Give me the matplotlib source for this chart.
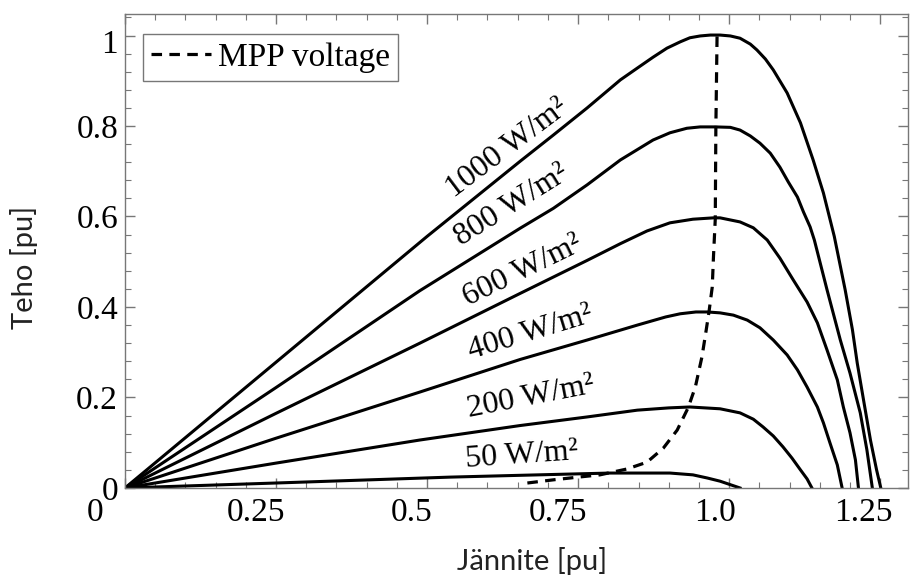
import numpy as np
import matplotlib
matplotlib.use('Agg')
import matplotlib.pyplot as plt
from matplotlib.ticker import MultipleLocator
from matplotlib.transforms import ScaledTranslation

# P-V curves (voltage pu, power pu)
v1000 = [0, 0.25, 0.5, 0.654, 0.709, 0.765, 0.820, 0.848, 0.874, 0.897, 0.919, 0.935, 0.952, 0.969, 0.985,
         1.002, 1.018, 1.035, 1.046, 1.060, 1.073, 1.096, 1.118, 1.139, 1.156, 1.174, 1.192, 1.204, 1.212,
         1.223, 1.234, 1.244, 1.251]
p1000 = [0, 0.278, 0.556, 0.722, 0.780, 0.840, 0.902, 0.928, 0.952, 0.972, 0.986, 0.995, 0.999, 1.001, 1.001,
         0.999, 0.994, 0.981, 0.968, 0.948, 0.924, 0.873, 0.807, 0.725, 0.652, 0.556, 0.438, 0.350, 0.276,
         0.190, 0.105, 0.040, 0.0]
v800 = [0, 0.25, 0.488, 0.654, 0.709, 0.765, 0.820, 0.874, 0.902, 0.930, 0.952, 0.977, 1.002, 1.018, 1.035,
        1.051, 1.068, 1.084, 1.098, 1.113, 1.123, 1.134, 1.141, 1.162, 1.184, 1.200, 1.217, 1.228, 1.237]
p800 = [0, 0.222, 0.436, 0.574, 0.618, 0.670, 0.725, 0.769, 0.785, 0.795, 0.798, 0.798, 0.797, 0.791, 0.778,
        0.762, 0.740, 0.709, 0.676, 0.643, 0.610, 0.577, 0.548, 0.438, 0.327, 0.254, 0.166, 0.084, 0]
v600 = [0, 0.25, 0.488, 0.654, 0.765, 0.820, 0.864, 0.902, 0.940, 0.974, 0.985, 1.018, 1.040, 1.063, 1.084,
        1.106, 1.129, 1.146, 1.162, 1.179, 1.189, 1.200, 1.209, 1.214]
p600 = [0, 0.165, 0.320, 0.430, 0.503, 0.540, 0.568, 0.586, 0.594, 0.597, 0.597, 0.588, 0.575, 0.548, 0.508,
        0.460, 0.411, 0.365, 0.305, 0.239, 0.179, 0.122, 0.062, 0]
v400 = [0, 0.25, 0.488, 0.654, 0.765, 0.848, 0.895, 0.919, 0.945, 0.964, 0.985, 1.007, 1.030, 1.051, 1.073,
        1.096, 1.113, 1.129, 1.146, 1.156, 1.167, 1.179, 1.187]
p400 = [0, 0.11, 0.212, 0.284, 0.327, 0.360, 0.378, 0.385, 0.389, 0.389, 0.387, 0.382, 0.371, 0.354, 0.327,
        0.294, 0.261, 0.223, 0.179, 0.144, 0.099, 0.051, 0]
v200 = [0, 0.25, 0.488, 0.654, 0.765, 0.848, 0.900, 0.935, 0.985, 1.018, 1.040, 1.056, 1.073, 1.089, 1.104,
        1.118, 1.129, 1.137]
p200 = [0, 0.055, 0.106, 0.138, 0.157, 0.172, 0.177, 0.179, 0.175, 0.166, 0.152, 0.135, 0.115, 0.091, 0.066,
        0.040, 0.020, 0]
v50 = [0, 0.25, 0.538, 0.654, 0.803, 0.902, 0.940, 0.964, 0.985, 1.018]
p50 = [0, 0.011, 0.024, 0.028, 0.033, 0.033, 0.029, 0.022, 0.015, 0]

# MPP voltage locus
v_mpp = [0.666, 0.709, 0.750, 0.786, 0.831, 0.864, 0.891, 0.914, 0.932, 0.944, 0.955, 0.962, 0.967, 0.972, 0.974, 0.977, 0.978, 0.980]
p_mpp = [0.011, 0.018, 0.024, 0.029, 0.042, 0.057, 0.088, 0.128, 0.177, 0.223, 0.290, 0.349, 0.393, 0.444, 0.510, 0.594, 0.798, 1.001]

irradiance = [1000, 800, 600, 400, 200, 50]
curves_v = [v1000, v800, v600, v400, v200, v50]
curves_p = [p1000, p800, p600, p400, p200, p50]

# label placement (baseline centre, angle)
lab_x = [0.640, 0.647, 0.664, 0.674, 0.675, 0.657]
lab_y = [0.738, 0.610, 0.464, 0.327, 0.183, 0.055]
lab_rot = [37, 32, 26, 17, 11, 4]

xtick_pos = [0, 0.25, 0.5, 0.75, 1.0, 1.25]
xtick_lab = ['0', '0.25', '0.5', '0.75', '1.0', '1.25']
xtick_shift = [-30, -20, -15, -20, -14, -17]   # px, labels sit left of ticks
ytick_pos = [0, 0.2, 0.4, 0.6, 0.8, 1.0]
ytick_lab = ['0', '0.2', '0.4', '0.6', '0.8', '1']

plt.rcParams['font.family'] = ['Liberation Serif', 'DejaVu Serif']

fig = plt.figure(figsize=(9.11, 5.79), dpi=100)
ax = fig.add_axes([0.1372, 0.1572, 0.8595, 0.8186])

for v, p in zip(curves_v, curves_p):
    ax.plot(v, p, color='black', lw=2.2, solid_joinstyle='round')

ax.plot(v_mpp, p_mpp, color='black', lw=2.3, dashes=(3.3, 2.3), label='MPP voltage')

for g, x, y, r in zip(irradiance, lab_x, lab_y, lab_rot):
    ax.text(x, y, f'{g} W/m²', fontsize=23, rotation=r, rotation_mode='anchor',
            ha='center', va='baseline')

ax.set_xlim(0, 1.296)
ax.set_ylim(0, 1.0475)

ax.set_xticks(xtick_pos, xtick_lab)
ax.set_yticks(ytick_pos, ytick_lab)
ax.xaxis.set_minor_locator(MultipleLocator(0.05))
ax.yaxis.set_minor_locator(MultipleLocator(0.04))
ax.tick_params(which='both', direction='in', top=True, right=True, color='#777777', labelsize=24)
ax.tick_params(which='major', length=7, width=1)
ax.tick_params(which='minor', length=4, width=0.8)
ax.tick_params(axis='x', pad=7)
ax.tick_params(axis='y', pad=5)

for lbl, dx in zip(ax.get_xticklabels(), xtick_shift):
    lbl.set_transform(lbl.get_transform() + ScaledTranslation(dx / 100, 0, fig.dpi_scale_trans))
ylbls = ax.get_yticklabels()
ylbls[-1].set_transform(ylbls[-1].get_transform() + ScaledTranslation(0, -6 / 100, fig.dpi_scale_trans))

for s in ax.spines.values():
    s.set_color('#777777')
    s.set_linewidth(1.0)

ax.set_xlabel('Jännite [pu]', fontsize=21, family='Lato', color='#222222')
ax.set_ylabel('Teho [pu]', fontsize=21, family='Lato', color='#222222')
ax.xaxis.set_label_coords(0.52, -0.125)
ax.yaxis.set_label_coords(-0.111, 0.466)

leg = ax.legend(loc='upper left', bbox_to_anchor=(0.023, 0.958), borderaxespad=0,
                fancybox=False, edgecolor='#777777', framealpha=1, fontsize=24,
                handlelength=1.8, handletextpad=0.2, borderpad=0.25)
leg.get_frame().set_linewidth(1.0)

fig.savefig('out.png', dpi=100)
